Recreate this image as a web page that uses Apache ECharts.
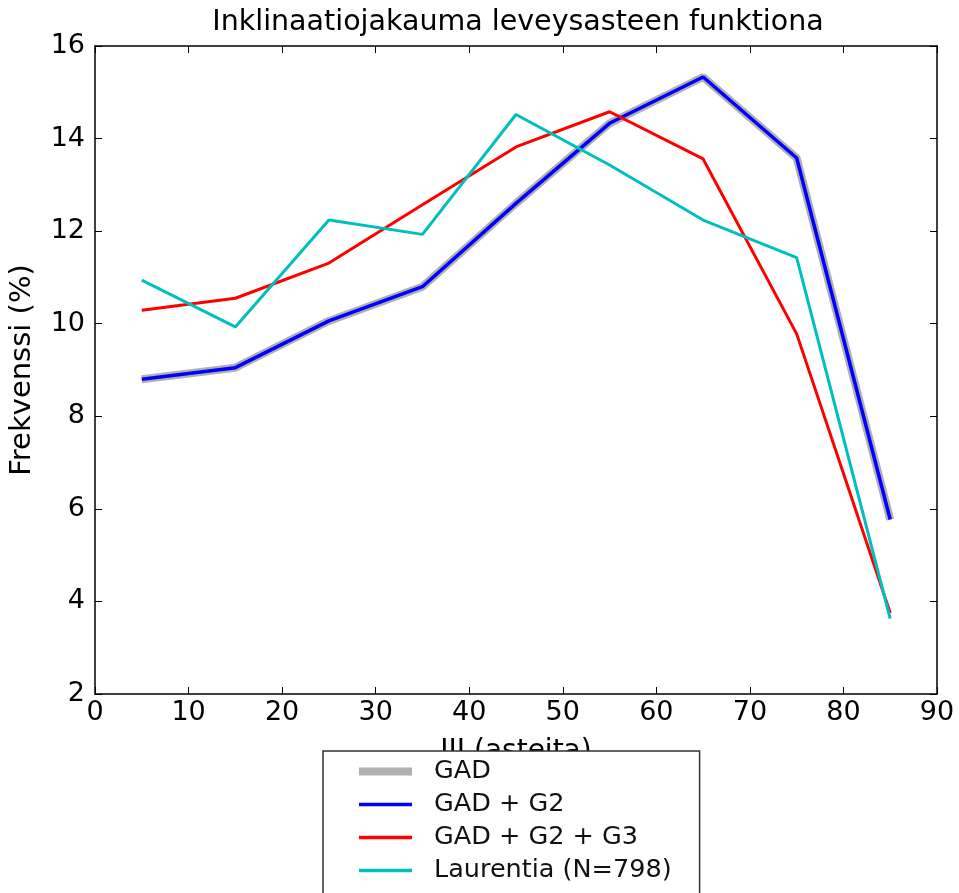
<!DOCTYPE html>
<html>
<head>
<meta charset="utf-8">
<script src="https://cdn.jsdelivr.net/npm/echarts@6/dist/echarts.min.js"></script>
<style>
html,body{margin:0;padding:0;background:#fff;}
#chart{width:959px;height:893px;}
</style>
</head>
<body>
<div id="chart"></div>
<script>
const latitudes = [5, 15, 25, 35, 45, 55, 65, 75, 85];
const gad = [8.80, 9.05, 10.06, 10.80, 12.60, 14.33, 15.33, 13.58, 5.77];
const gadG2 = [8.80, 9.05, 10.06, 10.80, 12.60, 14.33, 15.33, 13.58, 5.77];
const gadG2G3 = [10.29, 10.55, 11.31, 12.57, 13.82, 14.58, 13.56, 9.78, 3.75];
const laurentia = [10.94, 9.93, 12.24, 11.93, 14.52, 13.43, 12.24, 11.43, 3.63];
const seriesNames = ['GAD', 'GAD + G2', 'GAD + G2 + G3', 'Laurentia (N=798)'];

const pairs = arr => latitudes.map((x, i) => [x, arr[i]]);
const font = 'DejaVu Sans';
const chart = echarts.init(document.getElementById('chart'), null, {renderer: 'canvas'});

const baseX = {
  type: 'value', min: 0, max: 90, interval: 10,
  axisLine: {onZero: false, lineStyle: {color: '#000', width: 1.5}},
  axisTick: {inside: true, length: 7, lineStyle: {color: '#000', width: 1}},
  splitLine: {show: false}
};
const baseY = {
  type: 'value', min: 2, max: 16, interval: 2,
  axisLine: {onZero: false, lineStyle: {color: '#000', width: 1.5}},
  axisTick: {inside: true, length: 7, lineStyle: {color: '#000', width: 1}},
  splitLine: {show: false}
};
const hiddenSym = {color: 'transparent', borderColor: 'transparent', borderWidth: 0};

chart.setOption({
  animation: false,
  backgroundColor: '#fff',
  textStyle: {fontFamily: font},
  title: {
    text: 'Inklinaatiojakauma leveysasteen funktiona',
    left: 513, top: 3, textAlign: 'center',
    textStyle: {fontFamily: font, fontSize: 28.5, fontWeight: 'normal', color: '#000'}
  },
  grid: {left: 90, right: 22, top: 46, bottom: 199},
  xAxis: [
    Object.assign({}, baseX, {
      position: 'bottom',
      name: 'III (asteita)', nameLocation: 'middle', nameGap: 44,
      nameTextStyle: {fontFamily: font, fontSize: 28, color: '#000'},
      axisLabel: {fontFamily: font, fontSize: 27, color: '#000', margin: 5}
    }),
    Object.assign({}, baseX, {position: 'top', axisLabel: {show: false}})
  ],
  yAxis: [
    Object.assign({}, baseY, {
      position: 'left',
      name: 'Frekvenssi (%)', nameLocation: 'middle', nameGap: 58,
      nameTextStyle: {fontFamily: font, fontSize: 29, color: '#000'},
      axisLabel: {fontFamily: font, fontSize: 27, color: '#000', margin: 10}
    }),
    Object.assign({}, baseY, {position: 'right', axisLabel: {show: false}})
  ],
  legend: {
    orient: 'vertical',
    left: 323, top: 751, height: 400,
    backgroundColor: '#fff',
    borderColor: '#333', borderWidth: 1.5, borderRadius: 0,
    padding: [6, 28, 30, 32],
    itemWidth: 53, itemHeight: 10, itemGap: 4,
    textStyle: {fontFamily: font, fontSize: 25.5, color: '#111', lineHeight: 29, padding: [0, 0, 0, 17]},
    itemStyle: hiddenSym,
    data: [
      {name: seriesNames[0], itemStyle: hiddenSym, lineStyle: {width: 8, color: '#b0b0b0'}},
      {name: seriesNames[1], itemStyle: hiddenSym, lineStyle: {width: 3.5, color: '#0000ff'}},
      {name: seriesNames[2], itemStyle: hiddenSym, lineStyle: {width: 3.5, color: '#ff0000'}},
      {name: seriesNames[3], itemStyle: hiddenSym, lineStyle: {width: 3.5, color: '#00bfbf'}}
    ],
    z: 10
  },
  series: [
    {name: seriesNames[0], type: 'line', data: pairs(gad), symbol: 'none',
     lineStyle: {color: '#b0b0b0', width: 8}, itemStyle: {color: '#b0b0b0'}, z: 1},
    {name: seriesNames[1], type: 'line', data: pairs(gadG2), symbol: 'none',
     lineStyle: {color: '#0000ff', width: 3.5}, itemStyle: {color: '#0000ff'}, z: 2},
    {name: seriesNames[2], type: 'line', data: pairs(gadG2G3), symbol: 'none',
     lineStyle: {color: '#ff0000', width: 3}, itemStyle: {color: '#ff0000'}, z: 3},
    {name: seriesNames[3], type: 'line', data: pairs(laurentia), symbol: 'none',
     lineStyle: {color: '#00bfbf', width: 3}, itemStyle: {color: '#00bfbf'}, z: 4}
  ]
});
</script>
</body>
</html>
